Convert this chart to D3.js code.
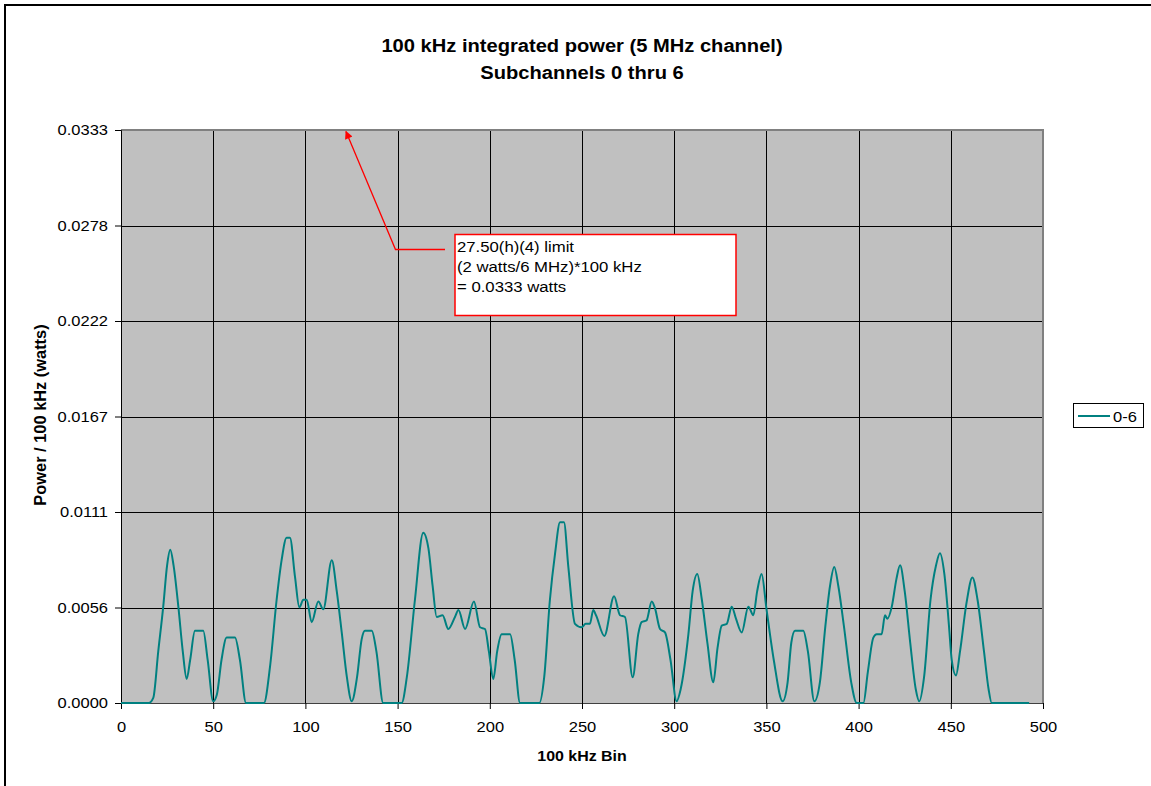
<!DOCTYPE html>
<html>
<head>
<meta charset="utf-8">
<title>100 kHz integrated power</title>
<style>
  body { margin: 0; background: #fff; }
  text { font-family: Arial, "Liberation Sans", sans-serif; fill: #000; }
</style>
</head>
<body>
<svg width="1151" height="786"></svg>
<script src="https://cdnjs.cloudflare.com/ajax/libs/d3/7.8.5/d3.min.js"></script>
<script>
// bin numbers and power values (key points)
const bins = [0, 15, 17.5, 20.2, 22.9, 25, 26.7, 28.5, 31.1, 33.5, 35.6, 37.5, 40.1, 44.6, 47, 50, 52, 54.5, 57.3, 61.8,
  64.5, 67.8, 77.5, 80.8, 84.4, 87.1, 89.8, 91.6, 94.4, 96.7, 98.9, 100.7, 103.4, 107, 109.7, 114.3, 117, 119.7, 122.5, 125.1,
  128, 130.5, 132.3, 136, 138.5, 142.2, 152.2, 155, 159.4, 163.9, 166.7, 169, 171.2, 174.4, 177.5, 181.1, 183, 186.6, 191.4, 194.7,
  197.4, 199.5, 201.9, 204, 206.4, 211, 213.5, 216.4, 226.9, 229.5, 232.6, 235.4, 238.1, 240.2, 242.6, 246.2, 249.8, 252, 254.3, 256.1,
  257.6, 262.1, 267.4, 270.6, 273.3, 277.5, 280.5, 282.3, 285, 287.8, 289.6, 292.3, 295, 298, 301.3, 303.5, 307.7, 310, 312.5, 315,
  318, 321.2, 323.5, 325.8, 328.5, 331.2, 333.5, 336.6, 340.2, 342.9, 345, 347.4, 350, 354, 358.8, 361.5, 363.5, 365.5, 370, 372.5,
  376, 379, 382, 384.5, 386.8, 389, 392, 396, 399, 402.6, 405, 408, 409.8, 412.5, 414.3, 415.6, 418, 420.5, 422.5, 425,
  428, 431, 432.9, 435.5, 439, 442, 444.1, 446.5, 449, 450.5, 452.8, 455, 458.5, 461.7, 464.5, 468, 470.5, 472.2, 492.5];
const power = [0, 0, 0.0003, 0.003, 0.0056, 0.008, 0.0089, 0.008, 0.0056, 0.003, 0.0014, 0.0025, 0.0042, 0.0042, 0.0025, 0.0001, 0.0005, 0.0025, 0.0038, 0.0038,
  0.0025, 0, 0, 0.0021, 0.006, 0.0083, 0.0096, 0.0096, 0.0073, 0.00556, 0.006, 0.006, 0.0047, 0.0059, 0.00545, 0.0083, 0.0065, 0.0041, 0.0015, 0.0001,
  0.0015, 0.0037, 0.0042, 0.0042, 0.003, 0, 0, 0.0015, 0.006, 0.0099, 0.009, 0.0068, 0.005, 0.0051, 0.0043, 0.005, 0.0054, 0.0043, 0.0059, 0.0044,
  0.0043, 0.003, 0.0014, 0.003, 0.004, 0.004, 0.0025, 0, 0, 0.0015, 0.006, 0.0087, 0.0105, 0.0105, 0.0079, 0.0046, 0.0044, 0.0046, 0.0046, 0.0054,
  0.0051, 0.0039, 0.0062, 0.0051, 0.005, 0.0015, 0.004, 0.0047, 0.0048, 0.0059, 0.0055, 0.0043, 0.0041, 0.0025, 0.0001, 0.0008, 0.004, 0.0065, 0.0075, 0.006,
  0.0035, 0.0012, 0.0032, 0.0045, 0.0046, 0.0056, 0.0049, 0.0041, 0.0056, 0.0051, 0.0065, 0.0075, 0.0055, 0.0025, 0.0001, 0.0012, 0.0035, 0.0042, 0.0042, 0.003,
  0.0001, 0.0012, 0.0045, 0.0068, 0.0079, 0.0068, 0.0045, 0.0012, 0, 0, 0.0018, 0.0038, 0.004, 0.004, 0.0051, 0.0049, 0.0056, 0.0072, 0.008, 0.0065,
  0.0035, 0.0008, 0.0001, 0.0015, 0.006, 0.008, 0.0087, 0.0075, 0.0045, 0.0025, 0.0016, 0.003, 0.0058, 0.0073, 0.006, 0.003, 0.0008, 0, 0];

const xTicks = [0, 50, 100, 150, 200, 250, 300, 350, 400, 450, 500];
const yTicks = [0, 0.00555, 0.0111, 0.01665, 0.0222, 0.02775, 0.0333];
const yTickLabels = ["0.0000", "0.0056", "0.0111", "0.0167", "0.0222", "0.0278", "0.0333"];
const seriesName = "0-6";
const titleLines = ["100 kHz integrated power (5 MHz channel)", "Subchannels 0 thru 6"];
const noteLines = ["27.50(h)(4) limit", "(2 watts/6 MHz)*100 kHz", "= 0.0333 watts"];

const svg = d3.select("svg");
const margin = {left: 121, right: 108, top: 130, bottom: 83};
const W = +svg.attr("width"), H = +svg.attr("height");
const xScale = d3.scaleLinear().domain([0, 500]).range([margin.left, W - margin.right]);
const yScale = d3.scaleLinear().domain([0, 0.0333]).range([H - margin.bottom, margin.top]);
const SX = 1.1; // text looks horizontally stretched in the original

function place(sel, x, y) {
  return sel.attr("transform", "translate(" + x + "," + y + ") scale(" + SX + ",1)");
}

// outer chart frame
svg.append("rect").attr("x", 5).attr("y", 5).attr("width", 1160).attr("height", 800)
   .attr("fill", "none").attr("stroke", "#000").attr("stroke-width", 2);

// plot area
svg.append("rect")
   .attr("x", xScale(0)).attr("y", yScale(0.0333))
   .attr("width", xScale(500) - xScale(0)).attr("height", yScale(0) - yScale(0.0333))
   .attr("fill", "#c0c0c0");

// gridlines
svg.append("g").selectAll("line").data(yTicks.slice(1, -1)).join("line")
   .attr("x1", xScale(0)).attr("x2", xScale(500))
   .attr("y1", d => Math.round(yScale(d)) + 0.5).attr("y2", d => Math.round(yScale(d)) + 0.5)
   .attr("stroke", "#000");
svg.append("g").selectAll("line").data(xTicks.slice(1, -1)).join("line")
   .attr("x1", d => Math.round(xScale(d)) + 0.5).attr("x2", d => Math.round(xScale(d)) + 0.5)
   .attr("y1", yScale(0.0333)).attr("y2", yScale(0))
   .attr("stroke", "#000");

// plot border (top / right gray)
svg.append("path")
   .attr("d", "M" + xScale(0) + "," + yScale(0.0333) + "H" + xScale(500) + "V" + yScale(0))
   .attr("fill", "none").attr("stroke", "#808080").attr("stroke-width", 2);

// axes
const yAxis = d3.axisLeft(yScale).tickValues(yTicks).tickFormat((d, i) => yTickLabels[i])
                .tickSize(6).tickPadding(7);
const gy = svg.append("g").attr("transform", "translate(" + xScale(0) + ",0)").call(yAxis);
gy.select(".domain").attr("stroke", "#000");
gy.selectAll(".tick line").attr("stroke", "#000");
gy.selectAll(".tick text").attr("font-size", 15).attr("fill", "#000")
  .attr("font-family", "Arial, 'Liberation Sans', sans-serif")
  .attr("transform", "scale(" + SX + ",1)").attr("x", -13 / SX);

const xAxis = d3.axisBottom(xScale).tickValues(xTicks).tickSize(6).tickPadding(12);
const gx = svg.append("g").attr("transform", "translate(0," + yScale(0) + ")").call(xAxis);
gx.select(".domain").attr("stroke", "#404040");
gx.selectAll(".tick line").attr("stroke", "#000");
gx.selectAll(".tick text").attr("font-size", 15).attr("fill", "#000")
  .attr("font-family", "Arial, 'Liberation Sans', sans-serif")
  .attr("transform", "scale(" + SX + ",1)");

// the trace
const pts = bins.map((b, i) => [b, power[i]]);
svg.append("path").datum(pts)
   .attr("fill", "none").attr("stroke", "#008080").attr("stroke-width", 2)
   .attr("d", d3.line().x(d => xScale(d[0])).y(d => yScale(d[1])).curve(d3.curveMonotoneX));

// titles
titleLines.forEach((t, i) => {
  place(svg.append("text"), 582, 52 + i * 27)
    .attr("text-anchor", "middle").attr("font-weight", "bold").attr("font-size", 18.3).text(t);
});
place(svg.append("text"), 582, 761)
  .attr("text-anchor", "middle").attr("font-weight", "bold").attr("font-size", 14.5).text("100 kHz Bin");
svg.append("text")
  .attr("transform", "translate(45.5,415) rotate(-90)")
  .attr("text-anchor", "middle").attr("font-weight", "bold").attr("font-size", 16.4)
  .text("Power / 100 kHz (watts)");

// annotation with arrow
svg.append("defs").append("marker")
   .attr("id", "arr").attr("viewBox", "0 0 10 10").attr("refX", 9).attr("refY", 5)
   .attr("markerWidth", 10).attr("markerHeight", 8).attr("orient", "auto")
   .attr("markerUnits", "userSpaceOnUse")
   .append("path").attr("d", "M0,0L10,5L0,10z").attr("fill", "#ff0000");
svg.append("path")
   .attr("d", "M445,249.5H395.5L" + xScale(122) + "," + (yScale(0.0333) + 1.5))
   .attr("fill", "none").attr("stroke", "#ff0000").attr("stroke-width", 1.3)
   .attr("marker-end", "url(#arr)");
svg.append("rect").attr("x", 455).attr("y", 234.5).attr("width", 281).attr("height", 81)
   .attr("fill", "#fff").attr("stroke", "#ff0000").attr("stroke-width", 1.5);
noteLines.forEach((t, i) => {
  place(svg.append("text"), 457, 251.5 + i * 20).attr("font-size", 15.2).text(t);
});

// legend
svg.append("rect").attr("x", 1073.5).attr("y", 403.5).attr("width", 70).attr("height", 24)
   .attr("fill", "#fff").attr("stroke", "#000");
svg.append("line").attr("x1", 1078).attr("x2", 1110).attr("y1", 416).attr("y2", 416)
   .attr("stroke", "#008080").attr("stroke-width", 2);
place(svg.append("text"), 1113, 422).attr("font-size", 15).text(seriesName);
</script>
</body>
</html>
